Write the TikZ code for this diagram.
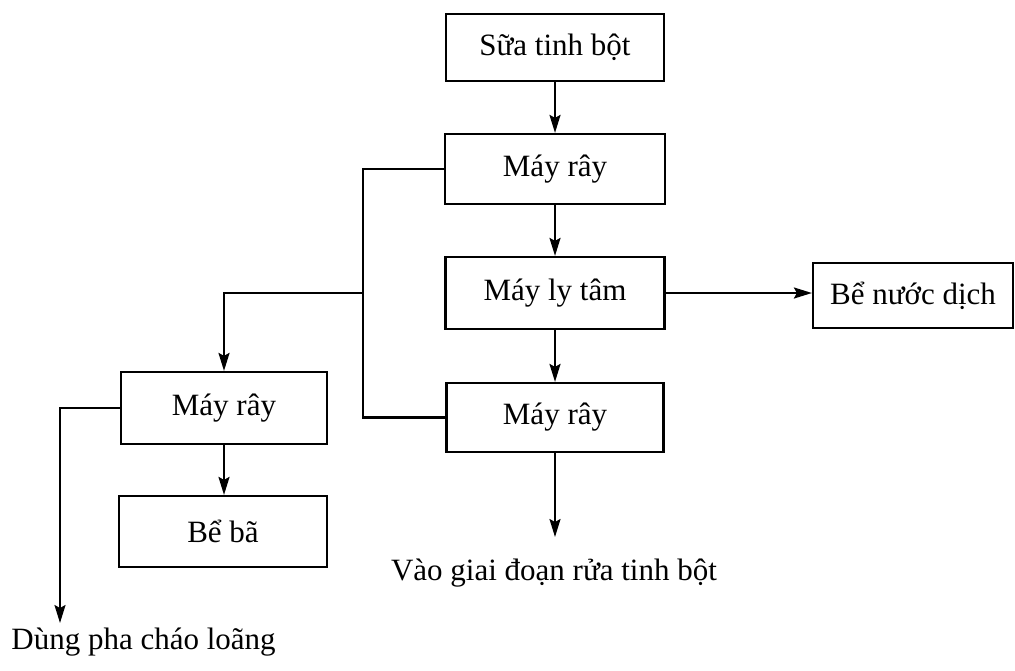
\documentclass[tikz,border=0pt]{standalone}
\usepackage{fontspec}
\setmainfont{Liberation Serif}
\usetikzlibrary{arrows.meta}
\tikzset{
  box/.style={draw, line width=1.1pt, inner sep=0pt, font=\fontsize{15.5}{18}\selectfont},
  lbl/.style={inner sep=0pt, font=\fontsize{15.5}{18}\selectfont},
  conn/.style={line width=1.1pt},
  arr/.style={line width=1.1pt, -{Stealth[length=9pt,width=5.5pt,inset=1.5pt]}}
}
\begin{document}
\begin{tikzpicture}[x=0.5pt,y=-0.5pt]
\useasboundingbox (0,0) rectangle (1015,670);
% boxes
\node[box, minimum width=109pt, minimum height=33.5pt] (A) at (555,47.5) {Sữa tinh bột};
\node[box, minimum width=110pt, minimum height=35pt] (B) at (555,169) {Máy rây};
\node[box, minimum width=109.5pt, minimum height=36pt] (C) at (555,293) {Máy ly tâm};
\node[box, minimum width=108.5pt, minimum height=34.5pt] (D) at (555,417.5) {Máy rây};
\node[box, minimum width=100pt, minimum height=32.5pt] (E) at (913,295.5) {Bể nước dịch};
\node[box, minimum width=103pt, minimum height=36pt] (F) at (224,408) {Máy rây};
\node[box, minimum width=104pt, minimum height=35.5pt] (G) at (223,531.5) {Bể bã};
% free texts
\node[lbl] (H) at (554,573) {Vào giai đoạn rửa tinh bột};
\node[lbl, anchor=west] (I) at (11,642) {Dùng pha cháo loãng};
% coordinates
\coordinate (j) at (363,293);
\coordinate (hend) at (555,537);
\coordinate (iend) at (60,623);
% connectors
\draw[arr] (A.south) -- (B.north);
\draw[arr] (B.south) -- (C.north);
\draw[arr] (C.south) -- (D.north);
\draw[arr] (C.east) -- (C.east -| E.west);
\draw[arr] (D.south) -- (hend);
\draw[conn] (B.west) -| (j) |- (D.west);
\draw[arr] (j) -| (F.north);
\draw[arr] (F.south) -- (F.south |- G.north);
\draw[arr] (F.west) -| (iend);
\end{tikzpicture}
\end{document}
